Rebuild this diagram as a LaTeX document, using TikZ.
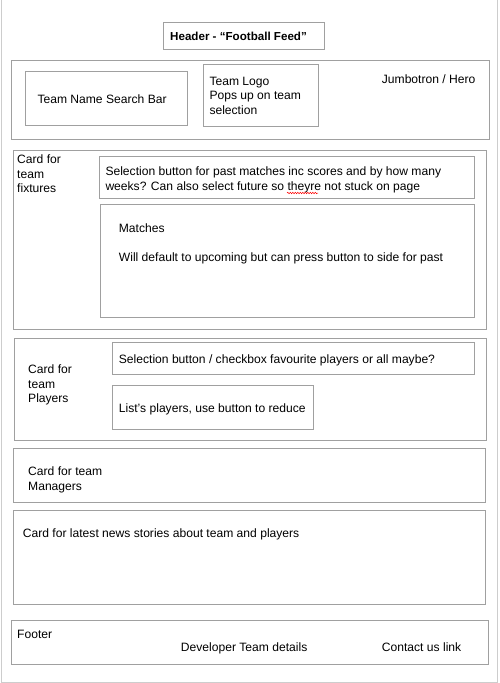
\documentclass[tikz,border=0pt]{standalone}
\usepackage{fontspec}
\setmainfont{Liberation Sans}
\usetikzlibrary{decorations.pathmorphing}
\definecolor{boxgray}{RGB}{160,160,160}
\definecolor{framegray}{RGB}{205,205,205}

\begin{document}
\begin{tikzpicture}[x=1pt, y=-1pt,
		box/.style = {draw = boxgray, line width = 1pt, anchor = north west, inner sep = 0pt},
		txt/.style = {inner sep = 0pt, anchor = north west, align = left, font = \fontsize{12.1}{14.6}\selectfont}]
		\useasboundingbox (0,0) rectangle (499,683);
		% page frame
		\draw [framegray, line width = 1pt] (1,0) -- (1,682) -- (497,682) -- (497,0);

		% header and jumbotron
		\node [box, minimum width = 161pt, minimum height = 27pt] (head) at (163,22) {};
		\node [txt, font = \fontsize{11.6}{14.6}\selectfont\bfseries] (headtxt) at (170,31.5) {Header - “Football Feed”};
		\node [box, minimum width = 478pt, minimum height = 79pt] (hero) at (10.5,60) {};
		\node [txt] (herotxt) at (381.7,74.3) {Jumbotron / Hero};
		\node [box, minimum width = 162pt, minimum height = 54pt] (search) at (25,71) {};
		\node [txt] (searchtxt) at (37.3,95) {Team Name Search Bar};
		\node [box, minimum width = 115pt, minimum height = 61.5pt] (logo) at (203,64.3) {};
		\node [txt] (logotxt) at (209.3,76.6) {Team Logo\\Pops up on team\\selection};

		% fixtures
		\node [box, minimum width = 473pt, minimum height = 179pt] (fixt) at (13.3,150) {};
		\node [txt] (fixttxt) at (17,154.6) {Card for\\team\\fixtures};
		\node [box, minimum width = 375pt, minimum height = 42pt] (fixtsel) at (99,156) {};
		\node [txt] (fixtseltxt) at (105.3,166.6) {Selection button for past matches inc scores and by how many\\weeks? Can also select future so theyre not stuck on page};
		\draw [red, line width = 0.5pt, decorate, decoration = {snake, amplitude = 0.7pt, segment length = 2.5pt}]
			(287,193) -- (318,193);
		\node [box, minimum width = 374pt, minimum height = 113pt] (match) at (100.3,204.3) {};
		\node [txt] (matchtxt) at (118.7,223.6) {Matches};
		\node [txt] (matchinfo) at (118.7,252.3) {Will default to upcoming but can press button to side for past};

		% players
		\node [box, minimum width = 472pt, minimum height = 102pt] (play) at (13.7,338.3) {};
		\node [txt] (playtxt) at (28,364.6) {Card for\\team\\Players};
		\node [box, minimum width = 362pt, minimum height = 32pt] (playsel) at (112,342.3) {};
		\node [txt] (playseltxt) at (118.7,355) {Selection button / checkbox favourite players or all maybe?};
		\node [box, minimum width = 201pt, minimum height = 44pt] (playlist) at (112,385.3) {};
		\node [txt] (playlisttxt) at (118.7,404) {List’s players, use button to reduce};

		% managers and news
		\node [box, minimum width = 472pt, minimum height = 54pt] (mgr) at (13.3,448.3) {};
		\node [txt] (mgrtxt) at (28,466.6) {Card for team\\Managers};
		\node [box, minimum width = 472pt, minimum height = 94pt] (news) at (13,510.3) {};
		\node [txt] (newstxt) at (22.7,529) {Card for latest news stories about team and players};

		% footer
		\node [box, minimum width = 477.5pt, minimum height = 44pt] (foot) at (10.7,620) {};
		\node [txt] (foottxt) at (17,629.6) {Footer};
		\node [txt] (devtxt) at (180.7,643) {Developer Team details};
		\node [txt] (contacttxt) at (381.7,643) {Contact us link};
	\end{tikzpicture}
\end{document}
